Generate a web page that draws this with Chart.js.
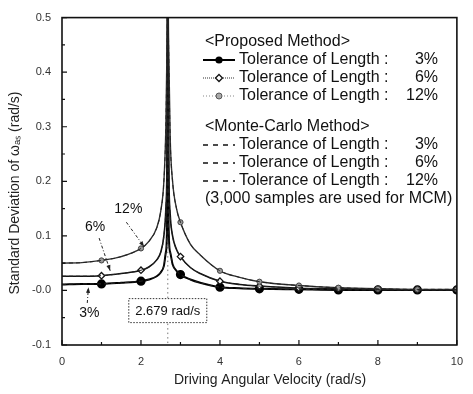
<!DOCTYPE html>
<html>
<head>
<meta charset="utf-8">
<script src="https://cdn.jsdelivr.net/npm/chart.js@4/dist/chart.umd.min.js"></script>
<style>
  html, body { margin: 0; padding: 0; background: #fff; }
  #wrap { width: 473px; height: 394px; }
</style>
</head>
<body>
<div id="wrap"><canvas id="chart" width="473" height="394"></canvas></div>
<script>
// Driving angular velocity samples (rad/s)
const OMEGA = [0, 0.5, 1, 1.5, 2, 2.2, 2.4, 2.5, 2.58, 2.63, 2.66, 2.679, 2.70, 2.74, 2.8, 2.9, 3, 3.25, 3.5, 4, 4.5, 5, 6, 7, 8, 9, 10];

// Proposed method, standard deviation (rad/s)
const SD_3  = [0.011, 0.012, 0.012, 0.014, 0.017, 0.020, 0.026, 0.033, 0.045, 0.07, 0.12, 0.6, 0.12, 0.07, 0.048, 0.036, 0.029, 0.020, 0.014, 0.006, 0.004, 0.003, 0.002, 0.001, 0.001, 0.001, 0.001];
const SD_6  = [0.026, 0.026, 0.027, 0.031, 0.037, 0.043, 0.056, 0.070, 0.10, 0.15, 0.25, 0.6, 0.25, 0.14, 0.10, 0.075, 0.062, 0.042, 0.031, 0.017, 0.011, 0.008, 0.004, 0.003, 0.002, 0.001, 0.001];
const SD_12 = [0.050, 0.051, 0.055, 0.062, 0.077, 0.090, 0.115, 0.145, 0.20, 0.30, 0.45, 0.6, 0.45, 0.28, 0.20, 0.15, 0.125, 0.085, 0.065, 0.036, 0.024, 0.016, 0.009, 0.005, 0.003, 0.002, 0.002];

// Monte-Carlo results coincide with the proposed curves in the figure
const MCM_3 = SD_3;
const MCM_6 = SD_6;
const MCM_12 = SD_12;

// Marker positions (rad/s)
const MARKER_X = [1, 2, 3, 4, 5, 6, 7, 8, 9, 10];

const RESONANCE = 2.679;
const X_TICK_STEP = 2;
const Y_TICK_STEP = 0.1;

const LEGEND_ROWS = [
  { head: '<Proposed Method>' },
  { label: 'Tolerance of Length :', pct: '3%', key: 'p3' },
  { label: 'Tolerance of Length :', pct: '6%', key: 'p6' },
  { label: 'Tolerance of Length :', pct: '12%', key: 'p12' },
  { gap: true },
  { head: '<Monte-Carlo Method>' },
  { label: 'Tolerance of Length :', pct: '3%', key: 'm' },
  { label: 'Tolerance of Length :', pct: '6%', key: 'm' },
  { label: 'Tolerance of Length :', pct: '12%', key: 'm' },
  { head: '(3,000 samples are used for MCM)' }
];

// percentage call-outs: text position and arrow (data coordinates)
const CALLOUTS = [
  { text: '12%', tx: 1.68, ty: 0.149, from: [1.63, 0.125], to: [2.08, 0.080] },
  { text: '6%',  tx: 0.84, ty: 0.116, from: [0.94, 0.096], to: [1.22, 0.036] },
  { text: '3%',  tx: 0.69, ty: -0.041, from: [0.64, -0.023], to: [0.67, 0.006] }
];

const FONT = 'Arial, "Liberation Sans", sans-serif';
Chart.defaults.font.family = FONT;

const toPts = ys => OMEGA.map((x, i) => ({ x: x, y: ys[i] }));
const markerRadius = r => ctx => MARKER_X.includes(ctx.raw.x) ? r : 0;

const datasets = [
  {
    label: 'MCM 12%', data: toPts(MCM_12), borderColor: '#222', borderWidth: 1,
    borderDash: [4, 3], pointRadius: 0
  },
  {
    label: 'MCM 6%', data: toPts(MCM_6), borderColor: '#222', borderWidth: 1,
    borderDash: [4, 3], pointRadius: 0
  },
  {
    label: 'MCM 3%', data: toPts(MCM_3), borderColor: '#222', borderWidth: 1,
    borderDash: [4, 3], pointRadius: 0
  },
  {
    label: 'Proposed 12%', data: toPts(SD_12), borderColor: '#333', borderWidth: 1.4,
    pointStyle: 'circle', pointRadius: markerRadius(2.6),
    pointBackgroundColor: '#999', pointBorderColor: '#444', pointBorderWidth: 1
  },
  {
    label: 'Proposed 6%', data: toPts(SD_6), borderColor: '#111', borderWidth: 1.6,
    pointStyle: 'rectRot', pointRadius: markerRadius(3.2),
    pointBackgroundColor: '#fff', pointBorderColor: '#111', pointBorderWidth: 1.3
  },
  {
    label: 'Proposed 3%', data: toPts(SD_3), borderColor: '#000', borderWidth: 2,
    pointStyle: 'circle', pointRadius: markerRadius(3.6),
    pointBackgroundColor: '#000', pointBorderColor: '#000'
  }
];

function drawArrow(ctx, x1, y1, x2, y2) {
  ctx.save();
  ctx.strokeStyle = '#222';
  ctx.fillStyle = '#222';
  ctx.lineWidth = 1;
  ctx.setLineDash([3, 2, 1, 2]);
  ctx.beginPath();
  ctx.moveTo(x1, y1);
  ctx.lineTo(x2, y2);
  ctx.stroke();
  ctx.setLineDash([]);
  const a = Math.atan2(y2 - y1, x2 - x1);
  ctx.beginPath();
  ctx.moveTo(x2, y2);
  ctx.lineTo(x2 - 6 * Math.cos(a - 0.35), y2 - 6 * Math.sin(a - 0.35));
  ctx.lineTo(x2 - 6 * Math.cos(a + 0.35), y2 - 6 * Math.sin(a + 0.35));
  ctx.closePath();
  ctx.fill();
  ctx.restore();
}

function legendSample(ctx, key, x0, x1, y) {
  const xm = (x0 + x1) / 2;
  ctx.save();
  if (key === 'm') {
    ctx.strokeStyle = '#111';
    ctx.lineWidth = 1.5;
    ctx.setLineDash([5, 5]);
    ctx.beginPath(); ctx.moveTo(x0, y); ctx.lineTo(x1, y); ctx.stroke();
  } else if (key === 'p3') {
    ctx.strokeStyle = '#000'; ctx.lineWidth = 2;
    ctx.beginPath(); ctx.moveTo(x0, y); ctx.lineTo(x1, y); ctx.stroke();
    ctx.fillStyle = '#000';
    ctx.beginPath(); ctx.arc(xm, y, 3.6, 0, Math.PI * 2); ctx.fill();
  } else if (key === 'p6') {
    ctx.strokeStyle = '#333'; ctx.lineWidth = 1.2; ctx.setLineDash([1, 1]);
    ctx.beginPath(); ctx.moveTo(x0, y); ctx.lineTo(x1, y); ctx.stroke();
    ctx.setLineDash([]);
    ctx.fillStyle = '#fff'; ctx.strokeStyle = '#111'; ctx.lineWidth = 1.3;
    ctx.beginPath();
    ctx.moveTo(xm, y - 3.5); ctx.lineTo(xm + 3.5, y); ctx.lineTo(xm, y + 3.5); ctx.lineTo(xm - 3.5, y);
    ctx.closePath(); ctx.fill(); ctx.stroke();
  } else if (key === 'p12') {
    ctx.strokeStyle = '#888'; ctx.lineWidth = 1.2; ctx.setLineDash([1, 2]);
    ctx.beginPath(); ctx.moveTo(x0, y); ctx.lineTo(x1, y); ctx.stroke();
    ctx.setLineDash([]);
    ctx.fillStyle = '#aaa'; ctx.strokeStyle = '#555'; ctx.lineWidth = 1;
    ctx.beginPath(); ctx.arc(xm, y, 3, 0, Math.PI * 2); ctx.fill(); ctx.stroke();
  }
  ctx.restore();
}

const decorations = {
  id: 'decorations',
  beforeDatasetsDraw(chart) {
    const { ctx, chartArea: a, scales: { x } } = chart;
    // dotted resonance line
    const px = x.getPixelForValue(RESONANCE);
    ctx.save();
    ctx.strokeStyle = '#777';
    ctx.lineWidth = 1;
    ctx.setLineDash([1.5, 3]);
    ctx.beginPath();
    ctx.moveTo(px, a.top);
    ctx.lineTo(px, a.bottom);
    ctx.stroke();
    ctx.restore();
  },
  afterDatasetsDraw(chart) {
    const { ctx, chartArea: a, scales: { x, y } } = chart;
    ctx.save();

    // frame
    ctx.strokeStyle = '#111';
    ctx.lineWidth = 1.6;
    ctx.strokeRect(a.left, a.top, a.right - a.left, a.bottom - a.top);

    // inward ticks
    ctx.lineWidth = 1.2;
    ctx.beginPath();
    for (let v = x.min; v <= x.max + 1e-9; v += X_TICK_STEP / 2) {
      const p = x.getPixelForValue(v);
      const major = Math.abs(v / X_TICK_STEP - Math.round(v / X_TICK_STEP)) < 1e-6;
      ctx.moveTo(p, a.bottom);
      ctx.lineTo(p, a.bottom - (major ? 5 : 3));
    }
    for (let v = y.min; v <= y.max + 1e-9; v += Y_TICK_STEP / 2) {
      const p = y.getPixelForValue(v);
      const major = Math.abs(v / Y_TICK_STEP - Math.round(v / Y_TICK_STEP)) < 1e-6;
      ctx.moveTo(a.left, p);
      ctx.lineTo(a.left + (major ? 5 : 3), p);
    }
    ctx.stroke();

    // resonance label box
    const px = x.getPixelForValue(RESONANCE);
    const by = y.getPixelForValue(-0.037);
    const bw = 78, bh = 24;
    ctx.fillStyle = '#fff';
    ctx.fillRect(px - bw / 2, by - bh / 2, bw, bh);
    ctx.strokeStyle = '#333';
    ctx.lineWidth = 1;
    ctx.setLineDash([1.5, 1.5]);
    ctx.strokeRect(px - bw / 2, by - bh / 2, bw, bh);
    ctx.setLineDash([]);
    ctx.fillStyle = '#111';
    ctx.textBaseline = 'middle';
    ctx.textAlign = 'center';
    ctx.font = '13px ' + FONT;
    ctx.fillText(RESONANCE.toFixed(3) + ' rad/s', px, by + 1);

    // call-outs
    CALLOUTS.forEach(c => {
      ctx.font = '14px ' + FONT;
      ctx.fillStyle = '#111';
      ctx.fillText(c.text, x.getPixelForValue(c.tx), y.getPixelForValue(c.ty));
      drawArrow(ctx, x.getPixelForValue(c.from[0]), y.getPixelForValue(c.from[1]),
                x.getPixelForValue(c.to[0]), y.getPixelForValue(c.to[1]));
    });

    // legend
    const lx0 = 203, lx1 = 235, tx = 239, pctRight = 438;
    let ly = 42;
    ctx.font = '16px ' + FONT;
    LEGEND_ROWS.forEach(r => {
      if (r.gap) { ly += 13; return; }
      ctx.fillStyle = '#111';
      if (r.head) {
        ctx.textAlign = 'left';
        ctx.fillText(r.head, lx0 + 2, ly);
      } else {
        legendSample(ctx, r.key, lx0, lx1, ly);
        ctx.fillStyle = '#111';
        ctx.textAlign = 'left';
        ctx.fillText(r.label, tx, ly);
        ctx.textAlign = 'right';
        ctx.fillText(r.pct, pctRight, ly);
      }
      ly += 18;
    });

    // axis titles
    ctx.fillStyle = '#222';
    ctx.textAlign = 'center';
    ctx.font = '14px ' + FONT;
    ctx.fillText('Driving Angular Velocity (rad/s)', 270, 380);
    ctx.translate(15, 193);
    ctx.rotate(-Math.PI / 2);
    ctx.fillText('Standard Deviation of \u03C9\u2090\u209B (rad/s)', 0, 0);
    ctx.restore();
  }
};

new Chart(document.getElementById('chart'), {
  type: 'line',
  data: { datasets: datasets },
  options: {
    responsive: false,
    animation: false,
    devicePixelRatio: 1,
    cubicInterpolationMode: 'monotone',
    layout: { padding: { top: 17, right: 7, left: 0, bottom: 0 } },
    plugins: { legend: { display: false }, tooltip: { enabled: false } },
    scales: {
      x: {
        type: 'linear', min: 0, max: 10,
        grid: { display: false, drawTicks: false },
        border: { display: false },
        ticks: { stepSize: X_TICK_STEP, color: '#333', font: { size: 11 }, padding: 10 },
        afterFit: s => { s.height = 49; }
      },
      y: {
        min: -0.1, max: 0.5,
        grid: { display: false, drawTicks: false },
        border: { display: false },
        ticks: {
          stepSize: Y_TICK_STEP, color: '#333', font: { size: 11 }, padding: 11,
          callback: v => v.toFixed(1)
        },
        afterFit: s => { s.width = 62; }
      }
    }
  },
  plugins: [decorations]
});
</script>
</body>
</html>
